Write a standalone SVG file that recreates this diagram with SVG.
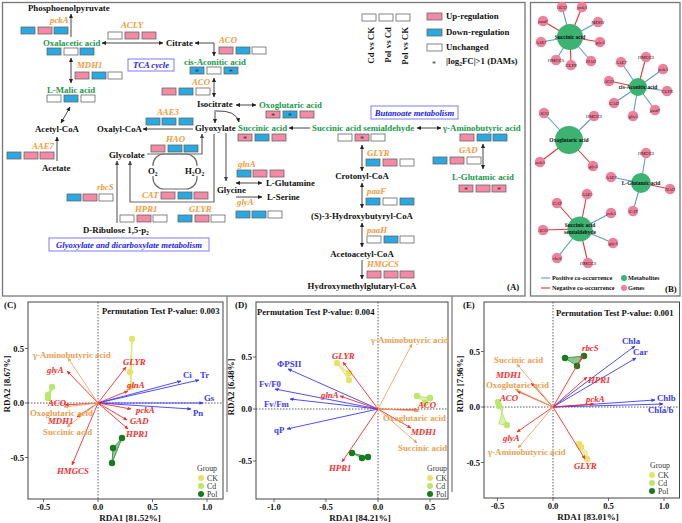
<svg xmlns="http://www.w3.org/2000/svg" width="682" height="523" viewBox="0 0 682 523">
<defs>
<marker id="a" viewBox="0 0 10 10" refX="9" refY="5" markerWidth="4.5" markerHeight="4.5" markerUnits="userSpaceOnUse" orient="auto-start-reverse"><path d="M0,0.5 L10,5 L0,9.5 z" fill="#222"/></marker>
<marker id="ag" viewBox="0 0 10 10" refX="9" refY="5" markerWidth="4.5" markerHeight="4.5" markerUnits="userSpaceOnUse" orient="auto-start-reverse"><path d="M0,0.5 L10,5 L0,9.5 z" fill="#444"/></marker>
<marker id="mb" viewBox="0 0 10 10" refX="9" refY="5" markerWidth="4" markerHeight="4" markerUnits="userSpaceOnUse" orient="auto"><path d="M0,0.5 L10,5 L0,9.5 z" fill="#3a3aff"/></marker>
<marker id="mr" viewBox="0 0 10 10" refX="9" refY="5" markerWidth="4" markerHeight="4" markerUnits="userSpaceOnUse" orient="auto"><path d="M0,0.5 L10,5 L0,9.5 z" fill="#ff2a2a"/></marker>
<marker id="mo" viewBox="0 0 10 10" refX="9" refY="5" markerWidth="4" markerHeight="4" markerUnits="userSpaceOnUse" orient="auto"><path d="M0,0.5 L10,5 L0,9.5 z" fill="#eda55a"/></marker>
</defs>
<style>
.t{font-family:"Liberation Serif","Times New Roman",serif;font-weight:bold;font-size:8.8px}
.k{fill:#111}
.g{fill:#1a9a4a}
.o{fill:#f59a3a;font-style:italic}
.bx rect{stroke:#666;stroke-width:.8}
.u{fill:#f48aa6}
.d{fill:#29a9e1}
.n{fill:#fff}
.st{font-family:"Liberation Serif",serif;font-size:8px;fill:#333;text-anchor:middle}
.c{fill:none;stroke:#333;stroke-width:.9}
.cg{fill:none;stroke:#6a6a6a;stroke-width:1.2}
.pb{fill:none;stroke:#777;stroke-width:1.3}
.pw{font-family:"Liberation Serif",serif;font-weight:bold;font-style:italic;font-size:8.6px;fill:#1a1aff;text-anchor:middle}
.pwb{fill:#fff;stroke:#7a7aff;stroke-width:1}
.hub{fill:#3cb371}
.gene{fill:#ef7f9a}
.pos{stroke:#5b9bd5;stroke-width:1.1}
.neg{stroke:#e8343a;stroke-width:1.1}
.hl{font-family:"Liberation Serif",serif;font-weight:bold;font-size:5.5px;fill:#111;text-anchor:middle}
.gl{font-family:"Liberation Serif",serif;font-style:italic;font-size:4.8px;fill:#222;text-anchor:middle}
.bl{font-family:"Liberation Serif",serif;font-weight:bold;font-size:6.3px;fill:#111}
.fr{fill:none;stroke:#444;stroke-width:1}
.z{stroke:#333;stroke-width:.8;stroke-dasharray:1.5 1.5}
.tk{stroke:#444;stroke-width:.8}
.tl{font-family:"Liberation Serif",serif;font-weight:bold;font-size:8.6px;fill:#111}
.ax{font-family:"Liberation Serif",serif;font-weight:bold;font-size:9px;fill:#111;text-anchor:middle}
.pt{font-family:"Liberation Serif",serif;font-weight:bold;font-size:8.6px;fill:#111}
.lg{font-family:"Liberation Serif",serif;font-size:7.8px;fill:#333}
.ab{stroke:#3a3aff;stroke-width:.9;marker-end:url(#mb)}
.ar{stroke:#ff2a2a;stroke-width:.9;marker-end:url(#mr)}
.ao{stroke:#eda55a;stroke-width:.9;marker-end:url(#mo)}
.lb{font-family:"Liberation Serif",serif;font-weight:bold;font-size:8.8px;fill:#3a3aff}
.lr{font-family:"Liberation Serif",serif;font-weight:bold;font-style:italic;font-size:8.8px;fill:#ff2a2a}
.lo{font-family:"Liberation Serif",serif;font-weight:bold;font-size:8.8px;fill:#e9a050}
.ck{fill:#e8e26a}
.cd{fill:#b9e86c}
.pl{fill:#167a1e}
</style>
<rect width="682" height="523" fill="#fff"/>

<!-- Panel frames -->
<rect class="pb" x="2.5" y="2.5" width="522.5" height="293.5"/>
<rect class="pb" x="530.5" y="2.5" width="149.5" height="293.5"/>
<line x1="227" y1="296" x2="227" y2="492" stroke="#777" stroke-width="1.2"/>
<line x1="452" y1="296" x2="452" y2="492" stroke="#777" stroke-width="1.2"/>

<!-- ===== Panel A connectors ===== -->
<g id="connectors-A">
<path class="c" d="M71,37 V14" marker-end="url(#a)"/>
<path class="c" d="M102,43 H163" marker-start="url(#a)" marker-end="url(#a)"/>
<path class="c" d="M195,43 H214 V56" marker-start="url(#a)" marker-end="url(#a)"/>
<path class="c" d="M71,58 V83" marker-start="url(#a)" marker-end="url(#a)"/>
<path class="c" d="M70,107 L61,123" marker-start="url(#a)" marker-end="url(#a)"/>
<path class="c" d="M57,161 V137" marker-end="url(#a)"/>
<path class="c" d="M214,78 V97" marker-start="url(#a)" marker-end="url(#a)"/>
<path class="c" d="M236,105 H256" marker-start="url(#a)" marker-end="url(#a)"/>
<path class="c" d="M215,110 V123" marker-end="url(#a)"/>
<path class="c" d="M216,111 Q236,110 239,122" marker-end="url(#a)"/>
<path class="c" d="M193,129 H143" marker-end="url(#a)"/>
<path class="cg" d="M147,154 H202 V134" marker-end="url(#ag)"/>
<path class="cg" d="M214,134 V202 H130 V161" marker-end="url(#ag)"/>
<rect class="cg" x="153" y="154" width="44" height="35" rx="11"/>
<path class="cg" d="M117,223 V161" marker-end="url(#ag)"/>
<path class="cg" d="M226,133 V181" marker-end="url(#ag)"/>
<path class="c" d="M236,183 H262" marker-start="url(#a)" marker-end="url(#a)"/>
<path class="c" d="M236,197 H262" marker-end="url(#a)"/>
<path class="c" d="M310,128 H289" marker-end="url(#a)"/>
<path class="c" d="M417,128 H441" marker-start="url(#a)" marker-end="url(#a)"/>
<path class="c" d="M362,145 V171" marker-start="url(#a)" marker-end="url(#a)"/>
<path class="c" d="M362,183 V208" marker-start="url(#a)" marker-end="url(#a)"/>
<path class="c" d="M362,223 V247" marker-start="url(#a)" marker-end="url(#a)"/>
<path class="c" d="M362,260 V279" marker-end="url(#a)"/>
<path class="c" d="M483,144 V169" marker-start="url(#a)" marker-end="url(#a)"/>
</g>

<!-- ===== Panel A nodes ===== -->
<g id="n-pep"><text class="t k" x="28" y="11">Phosphoenolpyruvate</text></g>
<g id="n-oaa"><text class="t g" x="43" y="46">Oxalacetic acid</text>
<g class="bx"><rect class="d" x="47" y="48" width="14" height="7"/><rect class="n" x="64" y="48" width="14" height="7"/><rect class="d" x="80" y="48" width="14" height="7"/></g></g>
<g id="n-citrate"><text class="t k" x="166" y="46">Citrate</text></g>
<g id="n-cis"><text class="t g" x="184" y="65">cis-Aconitic acid</text>
<g class="bx"><rect class="d" x="190" y="67" width="14" height="7"/><rect class="n" x="207" y="67" width="14" height="7"/><rect class="d" x="224" y="67" width="14" height="7"/></g>
<text class="st" x="197" y="75">*</text><text class="st" x="231" y="75">*</text></g>
<g id="n-mal"><text class="t g" x="47" y="93">L-Malic acid</text>
<g class="bx"><rect class="n" x="47" y="95" width="14" height="7"/><rect class="d" x="64" y="95" width="14" height="7"/><rect class="n" x="81" y="95" width="14" height="7"/></g></g>
<g id="n-acoa"><text class="t k" x="35" y="132">Acetyl-CoA</text></g>
<g id="n-acetate"><text class="t k" x="42" y="171">Acetate</text></g>
<g id="n-iso"><text class="t k" x="197" y="107">Isocitrate</text></g>
<g id="n-oxo"><text class="t g" x="259" y="108">Oxoglutaric acid</text>
<g class="bx"><rect class="u" x="266" y="111" width="14" height="7"/><rect class="d" x="283" y="111" width="14" height="7"/><rect class="u" x="300" y="111" width="14" height="7"/></g>
<text class="st" x="273" y="119">*</text><text class="st" x="290" y="119">*</text></g>
<g id="n-glyox"><text class="t k" x="195" y="131">Glyoxylate</text></g>
<g id="n-oxalyl"><text class="t k" x="97" y="132">Oxalyl-CoA</text></g>
<g id="n-succ"><text class="t g" x="238" y="131">Succinic acid</text>
<g class="bx"><rect class="u" x="238" y="134" width="14" height="7"/><rect class="d" x="255" y="134" width="14" height="7"/><rect class="u" x="272" y="134" width="14" height="7"/></g>
<text class="st" x="245" y="142">*</text></g>
<g id="n-ssa"><text class="t g" x="312" y="131">Succinic acid semialdehyde</text>
<g class="bx"><rect class="n" x="338" y="134" width="14" height="7"/><rect class="u" x="355" y="134" width="14" height="7"/><rect class="n" x="371" y="134" width="14" height="7"/></g>
<text class="st" x="362" y="142">*</text></g>
<g id="n-gaba"><text class="t g" x="443" y="131">γ-Aminobutyric acid</text>
<g class="bx"><rect class="u" x="460" y="134" width="14" height="7"/><rect class="d" x="477" y="134" width="14" height="7"/><rect class="d" x="493" y="134" width="14" height="7"/></g></g>
<g id="n-glu"><text class="t g" x="452" y="180">L-Glutamic acid</text>
<g class="bx"><rect class="u" x="459" y="185" width="14" height="7"/><rect class="u" x="476" y="185" width="14" height="7"/><rect class="u" x="492" y="185" width="14" height="7"/></g>
<text class="st" x="466" y="193">*</text><text class="st" x="499" y="193">*</text></g>
<g id="n-glycolate"><text class="t k" x="109" y="158">Glycolate</text></g>
<g id="n-o2"><rect x="148" y="166" width="12" height="10" fill="#fff"/><text class="t k" x="148" y="174">O<tspan font-size="5.5" dy="1.5">2</tspan></text></g>
<g id="n-h2o2"><rect x="185" y="166" width="20" height="10" fill="#fff"/><text class="t k" x="185" y="174">H<tspan font-size="5.5" dy="1.5">2</tspan><tspan dy="-1.5">O</tspan><tspan font-size="5.5" dy="1.5">2</tspan></text></g>
<g id="n-glycine"><text class="t k" x="217" y="193">Glycine</text></g>
<g id="n-gln"><text class="t k" x="266" y="186">L-Glutamine</text></g>
<g id="n-ser"><text class="t k" x="267" y="200">L-Serine</text></g>
<g id="n-rubp"><text class="t k" x="83" y="233">D-Ribulose 1,5-p<tspan font-size="5.5" dy="1.5">2</tspan></text></g>
<g id="n-crot"><text class="t k" x="362" y="179" text-anchor="middle">Crotonyl-CoA</text></g>
<g id="n-hb"><text class="t k" x="362" y="219" text-anchor="middle">(S)-3-Hydroxybutyryl-CoA</text></g>
<g id="n-aca"><text class="t k" x="362" y="257" text-anchor="middle">Acetoacetyl-CoA</text></g>
<g id="n-hmg"><text class="t k" x="362" y="289" text-anchor="middle">Hydroxymethylglutaryl-CoA</text></g>

<!-- genes -->
<g id="g-pckA"><text class="t o" x="50" y="23">pckA</text>
<g class="bx"><rect class="d" x="21" y="27" width="14" height="7"/><rect class="u" x="38" y="27" width="14" height="7"/><rect class="d" x="54" y="27" width="14" height="7"/></g></g>
<g id="g-acly"><text class="t o" x="121" y="28">ACLY</text>
<g class="bx"><rect class="n" x="108" y="32" width="14" height="7"/><rect class="u" x="125" y="32" width="14" height="7"/><rect class="u" x="142" y="32" width="14" height="7"/></g></g>
<g id="g-aco1"><text class="t o" x="219" y="43">ACO</text>
<g class="bx"><rect class="u" x="219" y="47" width="14" height="7"/><rect class="d" x="236" y="47" width="14" height="7"/><rect class="n" x="252" y="47" width="14" height="7"/></g></g>
<g id="g-mdh1"><text class="t o" x="77" y="68">MDH1</text>
<g class="bx"><rect class="u" x="75" y="72" width="14" height="7"/><rect class="d" x="92" y="72" width="14" height="7"/><rect class="n" x="108" y="72" width="14" height="7"/></g></g>
<g id="g-aco2"><text class="t o" x="192" y="85">ACO</text>
<g class="bx"><rect class="u" x="162" y="88" width="14" height="7"/><rect class="d" x="179" y="88" width="14" height="7"/><rect class="n" x="196" y="88" width="14" height="7"/></g></g>
<g id="g-aae3"><text class="t o" x="157" y="115">AAE3</text>
<g class="bx"><rect class="d" x="146" y="118" width="14" height="7"/><rect class="d" x="162" y="118" width="14" height="7"/><rect class="d" x="179" y="118" width="14" height="7"/></g></g>
<g id="g-aae7"><text class="t o" x="32" y="149">AAE7</text>
<g class="bx"><rect class="d" x="7" y="152" width="14" height="7"/><rect class="u" x="24" y="152" width="14" height="7"/><rect class="u" x="40" y="152" width="14" height="7"/></g></g>
<g id="g-hao"><text class="t o" x="166" y="142">HAO</text>
<g class="bx"><rect class="u" x="151" y="145" width="14" height="7"/><rect class="d" x="168" y="145" width="14" height="7"/><rect class="d" x="184" y="145" width="14" height="7"/></g></g>
<g id="g-cat"><text class="t o" x="142" y="198">CAT</text>
<g class="bx"><rect class="u" x="161" y="192" width="14" height="7"/><rect class="d" x="178" y="192" width="14" height="7"/><rect class="u" x="194" y="192" width="14" height="7"/></g></g>
<g id="g-rbcs"><text class="t o" x="97" y="190">rbcS</text>
<g class="bx"><rect class="d" x="67" y="194" width="14" height="7"/><rect class="u" x="83" y="194" width="14" height="7"/><rect class="n" x="99" y="194" width="14" height="7"/></g></g>
<g id="g-hpr1"><text class="t o" x="135" y="212">HPR1</text>
<g class="bx"><rect class="n" x="120" y="215" width="14" height="7"/><rect class="u" x="137" y="215" width="14" height="7"/><rect class="n" x="153" y="215" width="14" height="7"/></g></g>
<g id="g-glyr1"><text class="t o" x="189" y="212">GLYR</text>
<g class="bx"><rect class="d" x="178" y="215" width="14" height="7"/><rect class="u" x="195" y="215" width="14" height="7"/><rect class="n" x="211" y="215" width="14" height="7"/></g></g>
<g id="g-glna"><text class="t o" x="238" y="167">glnA</text>
<g class="bx"><rect class="d" x="237" y="170" width="14" height="7"/><rect class="u" x="253" y="170" width="14" height="7"/><rect class="u" x="270" y="170" width="14" height="7"/></g></g>
<g id="g-glya"><text class="t o" x="237" y="205">glyA</text>
<g class="bx"><rect class="d" x="236" y="211" width="14" height="7"/><rect class="d" x="252" y="211" width="14" height="7"/><rect class="n" x="268" y="211" width="14" height="7"/></g></g>
<g id="g-glyr2"><text class="t o" x="367" y="156">GLYR</text>
<g class="bx"><rect class="d" x="366" y="159" width="14" height="7"/><rect class="u" x="383" y="159" width="14" height="7"/><rect class="n" x="400" y="159" width="14" height="7"/></g></g>
<g id="g-gad"><text class="t o" x="459" y="153">GAD</text>
<g class="bx"><rect class="d" x="433" y="157" width="14" height="7"/><rect class="u" x="450" y="157" width="14" height="7"/><rect class="n" x="467" y="157" width="14" height="7"/></g></g>
<g id="g-paaf"><text class="t o" x="367" y="194">paaF</text>
<g class="bx"><rect class="d" x="366" y="198" width="14" height="7"/><rect class="n" x="383" y="198" width="14" height="7"/><rect class="d" x="400" y="198" width="14" height="7"/></g></g>
<g id="g-paah"><text class="t o" x="367" y="233">paaH</text>
<g class="bx"><rect class="n" x="367" y="236" width="14" height="7"/><rect class="d" x="384" y="236" width="14" height="7"/><rect class="n" x="400" y="236" width="14" height="7"/></g></g>
<g id="g-hmgcs"><text class="t o" x="367" y="267">HMGCS</text>
<g class="bx"><rect class="u" x="367" y="271" width="14" height="7"/><rect class="u" x="384" y="271" width="14" height="7"/><rect class="u" x="400" y="271" width="14" height="7"/></g></g>

<!-- pathway labels -->
<g id="lab-tca"><rect class="pwb" x="128" y="59" width="46" height="12"/><text class="pw" x="151" y="68">TCA cycle</text></g>
<g id="lab-but"><rect class="pwb" x="371" y="106" width="87" height="13"/><text class="pw" x="414.5" y="115.5">Butanoate metabolism</text></g>
<g id="lab-gly"><rect class="pwb" x="49" y="238" width="160" height="13"/><text class="pw" x="129" y="247.5">Glyoxylate and dicarboxylate  metabolism</text></g>

<!-- legend A -->
<g id="legend-A">
<g class="bx"><rect class="n" x="362" y="14" width="14" height="7"/><rect class="n" x="379" y="14" width="14" height="7"/><rect class="n" x="396" y="14" width="14" height="7"/></g>
<text class="t k" transform="translate(374,27) rotate(-90)" text-anchor="end">Cd vs CK</text>
<text class="t k" transform="translate(391,27) rotate(-90)" text-anchor="end">Pol vs Cd</text>
<text class="t k" transform="translate(408,27) rotate(-90)" text-anchor="end">Pol vs CK</text>
<g class="bx"><rect class="u" x="427" y="13" width="15" height="7"/><rect class="d" x="427" y="29" width="15" height="7"/><rect class="n" x="427" y="44" width="15" height="7"/></g>
<text class="t k" x="446" y="19">Up-regulation</text>
<text class="t k" x="446" y="35">Down-regulation</text>
<text class="t k" x="446" y="50">Unchanged</text>
<text class="st" x="434" y="67">*</text>
<text class="t k" x="446" y="64">|log<tspan font-size="5.5" dy="1.5">2</tspan><tspan dy="-1.5">FC|&gt;1 (DAMs)</tspan></text>
<text class="t k" x="507" y="290">(A)</text>
</g>

<!-- ===== Panel B ===== -->
<g id="network-edges">
<line class="neg" x1="570" y1="37" x2="543" y2="21"/>
<line class="pos" x1="570" y1="37" x2="562" y2="7"/>
<line class="neg" x1="570" y1="37" x2="582" y2="7"/>
<line class="pos" x1="570" y1="37" x2="598" y2="22"/>
<line class="neg" x1="570" y1="37" x2="600" y2="42"/>
<line class="pos" x1="570" y1="37" x2="591" y2="61"/>
<line class="neg" x1="570" y1="37" x2="571" y2="65"/>
<line class="pos" x1="570" y1="37" x2="556" y2="60"/>
<line class="pos" x1="570" y1="37" x2="541" y2="42"/>
<line class="neg" x1="638" y1="87" x2="646" y2="57"/>
<line class="pos" x1="638" y1="87" x2="663" y2="69"/>
<line class="pos" x1="638" y1="87" x2="667" y2="91"/>
<line class="pos" x1="638" y1="87" x2="655" y2="110"/>
<line class="pos" x1="638" y1="87" x2="633" y2="116"/>
<line class="pos" x1="638" y1="87" x2="614" y2="103"/>
<line class="neg" x1="638" y1="87" x2="609" y2="81"/>
<line class="pos" x1="638" y1="87" x2="621" y2="62"/>
<line class="pos" x1="569" y1="140" x2="544" y2="113"/>
<line class="pos" x1="569" y1="140" x2="594" y2="116"/>
<line class="neg" x1="569" y1="140" x2="593" y2="166"/>
<line class="neg" x1="569" y1="140" x2="540" y2="162"/>
<line class="pos" x1="641" y1="183" x2="646" y2="153"/>
<line class="pos" x1="641" y1="183" x2="611" y2="177"/>
<line class="neg" x1="641" y1="183" x2="670" y2="189"/>
<line class="pos" x1="641" y1="183" x2="633" y2="211"/>
<line class="neg" x1="580" y1="229" x2="587" y2="194"/>
<line class="neg" x1="580" y1="229" x2="557" y2="203"/>
<line class="neg" x1="580" y1="229" x2="543" y2="230"/>
<line class="pos" x1="580" y1="229" x2="611" y2="213"/>
<line class="pos" x1="580" y1="229" x2="613" y2="243"/>
<line class="neg" x1="580" y1="229" x2="588" y2="263"/>
<line class="pos" x1="580" y1="229" x2="557" y2="258"/>
</g>
<g id="net-hub-succ"><circle class="hub" cx="570" cy="37" r="13"/><text class="hl" x="570" y="39">Succinic acid</text></g>
<g id="net-hub-cis"><circle class="hub" cx="638" cy="87" r="9"/><text class="hl" x="638" y="89">cis-Aconitic acid</text></g>
<g id="net-hub-oxo"><circle class="hub" cx="569" cy="140" r="14"/><text class="hl" x="569" y="142">Oxoglutaric acid</text></g>
<g id="net-hub-glu"><circle class="hub" cx="641" cy="183" r="10"/><text class="hl" x="641" y="185">L-Glutamic acid</text></g>
<g id="net-hub-ssa"><circle class="hub" cx="580" cy="229" r="12.5"/><text class="hl" x="580" y="227">Succinic acid</text><text class="hl" x="580" y="234">semialdehyde</text></g>
<g id="net-genes">
<circle class="gene" cx="543" cy="21" r="5.2"/><text class="gl" x="543" y="22.5">paaF</text>
<circle class="gene" cx="562" cy="7" r="5.2"/><text class="gl" x="562" y="8.5">ACO</text>
<circle class="gene" cx="582" cy="7" r="5.2"/><text class="gl" x="582" y="8.5">pckA</text>
<circle class="gene" cx="598" cy="22" r="5.2"/><text class="gl" x="598" y="23.5">MDH1</text>
<circle class="gene" cx="600" cy="42" r="5.2"/><text class="gl" x="600" y="43.5">glyA</text>
<circle class="gene" cx="591" cy="61" r="5.2"/><text class="gl" x="591" y="62.5">HAO</text>
<circle class="gene" cx="571" cy="65" r="5.2"/><text class="gl" x="571" y="66.5">GLYR</text>
<circle class="gene" cx="556" cy="60" r="5.2"/><text class="gl" x="556" y="61.5">HMGCS</text>
<circle class="gene" cx="541" cy="42" r="5.2"/><text class="gl" x="541" y="43.5">AAE7</text>
<circle class="gene" cx="646" cy="57" r="5.2"/><text class="gl" x="646" y="58.5">HMGCS</text>
<circle class="gene" cx="663" cy="69" r="5.2"/><text class="gl" x="663" y="70.5">pckA</text>
<circle class="gene" cx="667" cy="91" r="5.2"/><text class="gl" x="667" y="92.5">GLYR</text>
<circle class="gene" cx="655" cy="110" r="5.2"/><text class="gl" x="655" y="111.5">paaF</text>
<circle class="gene" cx="633" cy="116" r="5.2"/><text class="gl" x="633" y="117.5">glnA</text>
<circle class="gene" cx="614" cy="103" r="5.2"/><text class="gl" x="614" y="104.5">GAD</text>
<circle class="gene" cx="609" cy="81" r="5.2"/><text class="gl" x="609" y="82.5">ACO</text>
<circle class="gene" cx="621" cy="62" r="5.2"/><text class="gl" x="621" y="63.5">AAE7</text>
<circle class="gene" cx="544" cy="113" r="5.2"/><text class="gl" x="544" y="114.5">ACO</text>
<circle class="gene" cx="594" cy="116" r="5.2"/><text class="gl" x="594" y="117.5">HMGCS</text>
<circle class="gene" cx="593" cy="166" r="5.2"/><text class="gl" x="593" y="167.5">glyA</text>
<circle class="gene" cx="540" cy="162" r="5.2"/><text class="gl" x="540" y="163.5">pckA</text>
<circle class="gene" cx="646" cy="153" r="5.2"/><text class="gl" x="646" y="154.5">HMGCS</text>
<circle class="gene" cx="611" cy="177" r="5.2"/><text class="gl" x="611" y="178.5">AAE7</text>
<circle class="gene" cx="670" cy="189" r="5.2"/><text class="gl" x="670" y="190.5">HAO</text>
<circle class="gene" cx="633" cy="211" r="5.2"/><text class="gl" x="633" y="212.5">CAT</text>
<circle class="gene" cx="587" cy="194" r="5.2"/><text class="gl" x="587" y="195.5">AAE3</text>
<circle class="gene" cx="557" cy="203" r="5.2"/><text class="gl" x="557" y="204.5">CAT</text>
<circle class="gene" cx="543" cy="230" r="5.2"/><text class="gl" x="543" y="231.5">ACO</text>
<circle class="gene" cx="611" cy="213" r="5.2"/><text class="gl" x="611" y="214.5">pckA</text>
<circle class="gene" cx="613" cy="243" r="5.2"/><text class="gl" x="613" y="244.5">glyA</text>
<circle class="gene" cx="588" cy="263" r="5.2"/><text class="gl" x="588" y="264.5">HMGCS</text>
<circle class="gene" cx="557" cy="258" r="5.2"/><text class="gl" x="557" y="259.5">rbcS</text>
</g>
<g id="legend-B">
<line class="pos" x1="541" y1="278" x2="550" y2="278"/>
<line class="neg" x1="541" y1="288" x2="550" y2="288"/>
<text class="bl" x="552" y="280">Positive co-occurrence</text>
<text class="bl" x="552" y="290">Negative co-occurrence</text>
<circle class="hub" cx="624" cy="278" r="3"/><circle class="gene" cx="624" cy="288" r="3"/>
<text class="bl" x="628" y="280">Metabolites</text>
<text class="bl" x="628" y="290">Genes</text>
<text class="t k" x="665" y="292">(B)</text>
</g>

<!-- ===== Panel C ===== -->
<g id="rda-C">
<text class="t k" x="4" y="308">(C)</text>
<rect class="fr" x="28" y="302" width="195" height="197"/>
<line class="z" x1="98" y1="302" x2="98" y2="499"/>
<line class="z" x1="28" y1="403" x2="223" y2="403"/>
<path class="tk" d="M43.5,499v3M98,499v3M152.5,499v3M207,499v3M28,348.5h-3M28,403h-3M28,457.5h-3"/>
<text class="tl" x="43.5" y="510" text-anchor="middle">-0.5</text>
<text class="tl" x="98" y="510" text-anchor="middle">0.0</text>
<text class="tl" x="152.5" y="510" text-anchor="middle">0.5</text>
<text class="tl" x="207" y="510" text-anchor="middle">1.0</text>
<text class="tl" x="24" y="351.5" text-anchor="end">0.5</text>
<text class="tl" x="24" y="406" text-anchor="end">0.0</text>
<text class="tl" x="24" y="460.5" text-anchor="end">-0.5</text>
<text class="ax" x="130" y="521">RDA1 [81.52%]</text>
<text class="ax" transform="translate(10,384) rotate(-90)">RDA2 [8.67%]</text>
<text class="pt" x="102" y="314">Permutation Test P-value: 0.003</text>
<polygon points="132,339 130,372 131,387" fill="#f3f0b0" stroke="#e8e26a" stroke-width="1"/>
<polygon points="52,387 48,395 48,398" fill="#d8f2b0" stroke="#b9e86c" stroke-width="2"/>
<polygon points="122,438 113,448 112,463" fill="#8cc890" stroke="#4a9a50" stroke-width="1"/>
<circle class="ck" cx="132" cy="339" r="3.2"/><circle class="ck" cx="130" cy="372" r="3.2"/><circle class="ck" cx="131" cy="387" r="3.2"/>
<circle class="cd" cx="52" cy="387" r="3.2"/><circle class="cd" cx="48" cy="395" r="3.2"/><circle class="cd" cx="48" cy="398" r="3.2"/>
<circle class="pl" cx="122" cy="438" r="3.2"/><circle class="pl" cx="113" cy="448" r="3.2"/><circle class="pl" cx="112" cy="463" r="3.2"/>
<line class="ab" x1="98" y1="403" x2="181" y2="381"/>
<line class="ab" x1="98" y1="403" x2="199" y2="380"/>
<line class="ab" x1="98" y1="403" x2="203" y2="403"/>
<line class="ab" x1="98" y1="403" x2="191" y2="409"/>
<line class="ar" x1="98" y1="403" x2="126" y2="367"/>
<line class="ar" x1="98" y1="403" x2="128" y2="391"/>
<line class="ar" x1="98" y1="403" x2="131" y2="409"/>
<line class="ar" x1="98" y1="403" x2="127" y2="420"/>
<line class="ar" x1="98" y1="403" x2="128" y2="429"/>
<line class="ar" x1="98" y1="403" x2="67" y2="371"/>
<line class="ar" x1="98" y1="403" x2="65" y2="405"/>
<line class="ar" x1="98" y1="403" x2="77" y2="417"/>
<line class="ar" x1="98" y1="403" x2="72" y2="465"/>
<line class="ao" x1="98" y1="403" x2="68" y2="358"/>
<line class="ao" x1="98" y1="403" x2="64" y2="407"/>
<line class="ao" x1="98" y1="403" x2="67" y2="427"/>
<text class="lb" x="183" y="378">Ci</text>
<text class="lb" x="200" y="378">Tr</text>
<text class="lb" x="204" y="401">Gs</text>
<text class="lb" x="193" y="416">Pn</text>
<text class="lr" x="123" y="365">GLYR</text>
<text class="lr" x="127" y="388">glnA</text>
<text class="lr" x="136" y="413">pckA</text>
<text class="lr" x="130" y="424">GAD</text>
<text class="lr" x="126" y="437">HPR1</text>
<text class="lr" x="47" y="373">glyA</text>
<text class="lr" x="48" y="406">ACO</text>
<text class="lr" x="48" y="424">MDH1</text>
<text class="lr" x="57" y="474">HMGCS</text>
<text class="lo" x="33" y="358">γ-Aminobutyric acid</text>
<text class="lo" x="30" y="415.5">Oxoglutaric acid</text>
<text class="lo" x="43" y="435">Succinic acid</text>
<text class="lg" x="197" y="471">Group</text>
<circle class="ck" cx="201" cy="478" r="3"/><circle class="cd" cx="201" cy="486" r="3"/><circle class="pl" cx="201" cy="494" r="3"/>
<text class="lg" x="207" y="481">CK</text><text class="lg" x="207" y="489">Cd</text><text class="lg" x="207" y="497">Pol</text>
</g>

<!-- ===== Panel D ===== -->
<g id="rda-D">
<text class="t k" x="235" y="308">(D)</text>
<rect class="fr" x="256" y="302" width="192" height="197"/>
<line class="z" x1="378" y1="302" x2="378" y2="499"/>
<line class="z" x1="256" y1="409" x2="448" y2="409"/>
<path class="tk" d="M274,499v3M326,499v3M378,499v3M430,499v3M256,357h-3M256,409h-3M256,461h-3"/>
<text class="tl" x="274" y="510" text-anchor="middle">-1.0</text>
<text class="tl" x="326" y="510" text-anchor="middle">-0.5</text>
<text class="tl" x="378" y="510" text-anchor="middle">0.0</text>
<text class="tl" x="430" y="510" text-anchor="middle">0.5</text>
<text class="tl" x="252" y="360" text-anchor="end">0.5</text>
<text class="tl" x="252" y="412" text-anchor="end">0.0</text>
<text class="tl" x="252" y="464" text-anchor="end">-0.5</text>
<text class="ax" x="360" y="521">RDA1 [84.21%]</text>
<text class="ax" transform="translate(234,387) rotate(-90)">RDA2 [6.48%]</text>
<text class="pt" x="257" y="315">Permutation Test P-value: 0.004</text>
<polygon points="337,363 349,373 349,380" fill="#f3f0b0" stroke="#e8e26a" stroke-width="1"/>
<polygon points="417,396 430,398 425,403" fill="#d8f2b0" stroke="#b9e86c" stroke-width="1"/>
<polygon points="352,453 362,458 368,457" fill="#8cc890" stroke="#4a9a50" stroke-width="1"/>
<circle class="ck" cx="337" cy="363" r="3.2"/><circle class="ck" cx="349" cy="373" r="3.2"/><circle class="ck" cx="349" cy="380" r="3.2"/>
<circle class="cd" cx="417" cy="396" r="3.2"/><circle class="cd" cx="430" cy="398" r="3.2"/><circle class="cd" cx="425" cy="403" r="3.2"/>
<circle class="pl" cx="352" cy="453" r="3.2"/><circle class="pl" cx="362" cy="458" r="3.2"/><circle class="pl" cx="368" cy="457" r="3.2"/>
<line class="ab" x1="378" y1="409" x2="288" y2="369"/>
<line class="ab" x1="378" y1="409" x2="275" y2="389"/>
<line class="ab" x1="378" y1="409" x2="290" y2="399"/>
<line class="ab" x1="378" y1="409" x2="287" y2="429"/>
<line class="ar" x1="378" y1="409" x2="343" y2="362"/>
<line class="ar" x1="378" y1="409" x2="340" y2="396"/>
<line class="ar" x1="378" y1="409" x2="342" y2="462"/>
<line class="ar" x1="378" y1="409" x2="418" y2="410"/>
<line class="ar" x1="378" y1="409" x2="411" y2="428"/>
<line class="ao" x1="378" y1="409" x2="412" y2="344"/>
<line class="ao" x1="378" y1="409" x2="419" y2="411"/>
<line class="ao" x1="378" y1="409" x2="417" y2="443"/>
<text class="lb" x="277" y="367">ΦPSII</text>
<text class="lb" x="259" y="387">Fv/F0</text>
<text class="lb" x="264" y="407">Fv/Fm</text>
<text class="lb" x="274" y="433">qP</text>
<text class="lr" x="332" y="359">GLYR</text>
<text class="lr" x="321" y="398">glnA</text>
<text class="lr" x="329" y="471">HPR1</text>
<text class="lr" x="418" y="408">ACO</text>
<text class="lr" x="411" y="435">MDH1</text>
<text class="lo" x="371" y="343">γ-Aminobutyric acid</text>
<text class="lo" x="383" y="421">Oxoglutaric acid</text>
<text class="lo" x="398" y="451">Succinic acid</text>
<text class="lg" x="427" y="471">Group</text>
<circle class="ck" cx="430" cy="478" r="3"/><circle class="cd" cx="430" cy="486" r="3"/><circle class="pl" cx="430" cy="494" r="3"/>
<text class="lg" x="436" y="481">CK</text><text class="lg" x="436" y="489">Cd</text><text class="lg" x="436" y="497">Pol</text>
</g>

<!-- ===== Panel E ===== -->
<g id="rda-E">
<text class="t k" x="463" y="308">(E)</text>
<rect class="fr" x="484" y="302" width="195.5" height="196"/>
<line class="z" x1="553" y1="302" x2="553" y2="498"/>
<line class="z" x1="484" y1="407" x2="679.5" y2="407"/>
<path class="tk" d="M497.5,498v3M553,498v3M608.5,498v3M664,498v3M484,351.5h-3M484,407h-3M484,462.5h-3"/>
<text class="tl" x="497.5" y="508.5" text-anchor="middle">-0.5</text>
<text class="tl" x="553" y="508.5" text-anchor="middle">0.0</text>
<text class="tl" x="608.5" y="508.5" text-anchor="middle">0.5</text>
<text class="tl" x="664" y="508.5" text-anchor="middle">1.0</text>
<text class="tl" x="480" y="354.5" text-anchor="end">0.5</text>
<text class="tl" x="480" y="410" text-anchor="end">0.0</text>
<text class="tl" x="480" y="465.5" text-anchor="end">-0.5</text>
<text class="ax" x="588" y="520">RDA1 [83.01%]</text>
<text class="ax" transform="translate(463,384) rotate(-90)">RDA2 [7.96%]</text>
<text class="pt" x="556" y="316">Permutation Test P-value: 0.001</text>
<polygon points="565,358 584,356 577,366" fill="#8cc890" stroke="#4a9a50" stroke-width="1"/>
<polygon points="497,400 503,408 499,424 507,425" fill="#d8f2b0" stroke="#b9e86c" stroke-width="1"/>
<polygon points="579,444 587,452 587,459" fill="#f3f0b0" stroke="#e8e26a" stroke-width="1"/>
<circle class="pl" cx="565" cy="358" r="3.2"/><circle class="pl" cx="584" cy="356" r="3.2"/><circle class="pl" cx="577" cy="366" r="3.2"/>
<circle class="cd" cx="498" cy="402" r="3.2"/><circle class="cd" cx="499" cy="406" r="3.2"/><circle class="cd" cx="507" cy="425" r="3.2"/>
<circle class="ck" cx="579" cy="444" r="3.2"/><circle class="ck" cx="581" cy="447" r="3.2"/><circle class="ck" cx="587" cy="459" r="3.2"/>
<line class="ab" x1="553" y1="407" x2="635" y2="346"/>
<line class="ab" x1="553" y1="407" x2="636" y2="358"/>
<line class="ab" x1="553" y1="407" x2="655" y2="400"/>
<line class="ab" x1="553" y1="407" x2="663" y2="404"/>
<line class="ar" x1="553" y1="407" x2="583" y2="355"/>
<line class="ar" x1="553" y1="407" x2="587" y2="377"/>
<line class="ar" x1="553" y1="407" x2="594" y2="404"/>
<line class="ar" x1="553" y1="407" x2="585" y2="459"/>
<line class="ar" x1="553" y1="407" x2="531" y2="383"/>
<line class="ar" x1="553" y1="407" x2="517" y2="391"/>
<line class="ar" x1="553" y1="407" x2="517" y2="432"/>
<line class="ao" x1="553" y1="407" x2="517" y2="364"/>
<line class="ao" x1="553" y1="407" x2="515" y2="389"/>
<line class="ao" x1="553" y1="407" x2="518" y2="448"/>
<text class="lb" x="622" y="344">Chla</text>
<text class="lb" x="633" y="355">Car</text>
<text class="lb" x="657" y="401">Chlb</text>
<text class="lb" x="648" y="413">Chla/b</text>
<text class="lr" x="582" y="351">rbcS</text>
<text class="lr" x="588" y="383">HPR1</text>
<text class="lr" x="586" y="402">pckA</text>
<text class="lr" x="574" y="469">GLYR</text>
<text class="lr" x="496" y="378">MDH1</text>
<text class="lr" x="500" y="401">ACO</text>
<text class="lr" x="503" y="441">glyA</text>
<text class="lo" x="494" y="363">Succinic acid</text>
<text class="lo" x="486" y="388">Oxoglutaric acid</text>
<text class="lo" x="488" y="455">γ-Aminobutyric acid</text>
<text class="lg" x="650" y="468">Group</text>
<circle class="ck" cx="652" cy="475" r="3"/><circle class="cd" cx="652" cy="483" r="3"/><circle class="pl" cx="652" cy="491" r="3"/>
<text class="lg" x="658" y="478">CK</text><text class="lg" x="658" y="486">Cd</text><text class="lg" x="658" y="494">Pol</text>
</g>
</svg>
